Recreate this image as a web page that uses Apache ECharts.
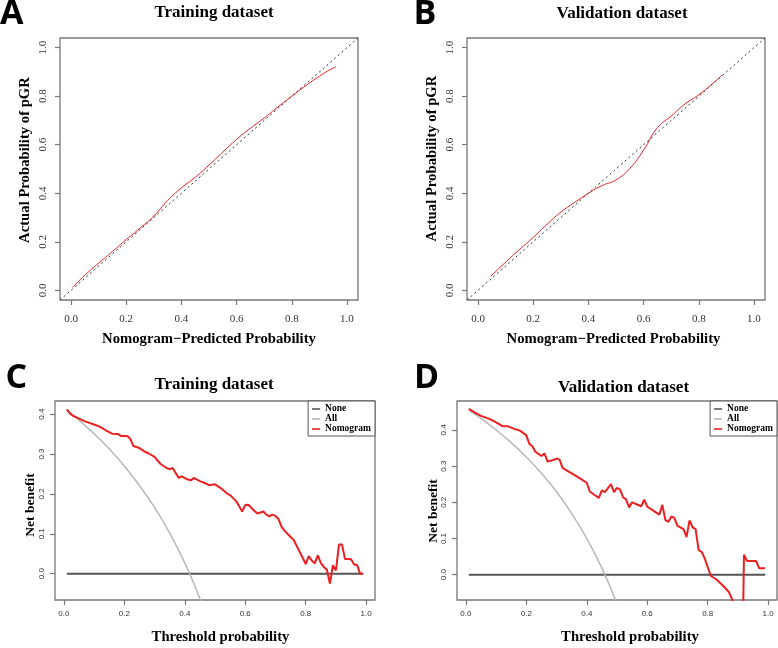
<!DOCTYPE html>
<html><head><meta charset="utf-8">
<script src="https://cdn.jsdelivr.net/npm/echarts@6/dist/echarts.min.js"></script>
<style>html,body{margin:0;padding:0;background:#fff}#c{width:778px;height:648px}</style>
</head><body><div id="c"></div>
<script>
// ---- tick labels ----
const calTicks = [0, 0.2, 0.4, 0.6, 0.8, 1.0];
const dcaXTicks = [0, 0.2, 0.4, 0.6, 0.8, 1.0];
const dcaYTicks = [0, 0.1, 0.2, 0.3, 0.4];

// ---- calibration (A, B) ----
const diagX = [-0.04, 1.04];
const diagY = [-0.04, 1.04];
const trainCalX = [0.005,0.05,0.10,0.15,0.20,0.25,0.30,0.35,0.40,0.45,0.50,0.55,0.60,0.65,0.70,0.75,0.80,0.85,0.90,0.93,0.96];
const trainCalY = [0.012,0.062,0.112,0.160,0.209,0.256,0.306,0.370,0.422,0.466,0.516,0.570,0.622,0.668,0.710,0.756,0.800,0.843,0.882,0.904,0.921];
const validCalX = [0.045,0.10,0.15,0.20,0.25,0.30,0.35,0.40,0.45,0.50,0.55,0.60,0.65,0.70,0.75,0.80,0.85,0.885];
const validCalY = [0.057,0.116,0.168,0.218,0.272,0.322,0.362,0.400,0.432,0.455,0.502,0.578,0.670,0.718,0.768,0.806,0.852,0.888];

// ---- decision curves (C, D) ----
const noneX = [0.01, 0.99];
const noneY = [0, 0];
const trainAllX = [0.01,0.05,0.10,0.15,0.20,0.25,0.30,0.35,0.40,0.45,0.48];
const trainAllY = [0.410,0.385,0.351,0.313,0.270,0.221,0.166,0.102,0.027,-0.062,-0.123];
const trainThresh = [0.01,0.02,0.03,0.05,0.07,0.10,0.12,0.14,0.16,0.18,0.19,0.21,0.22,0.23,0.25,0.27,0.28,0.30,0.32,0.34,0.35,0.36,0.38,0.39,0.41,0.42,0.43,0.45,0.47,0.48,0.50,0.52,0.54,0.55,0.57,0.59,0.60,0.61,0.63,0.64,0.66,0.67,0.68,0.69,0.70,0.71,0.72,0.73,0.75,0.76,0.77,0.78,0.79,0.80,0.81,0.82,0.83,0.84,0.85,0.86,0.87,0.88,0.89,0.90,0.91,0.92,0.93,0.94,0.95,0.96,0.97,0.98,0.99];
const trainNomogram = [0.412,0.402,0.396,0.389,0.382,0.374,0.368,0.359,0.351,0.350,0.345,0.345,0.338,0.320,0.315,0.305,0.302,0.293,0.275,0.265,0.262,0.265,0.240,0.244,0.236,0.234,0.240,0.232,0.226,0.222,0.224,0.214,0.201,0.197,0.182,0.156,0.172,0.173,0.158,0.151,0.156,0.148,0.144,0.148,0.145,0.137,0.118,0.108,0.092,0.085,0.070,0.055,0.040,0.024,0.044,0.033,0.026,0.046,0.027,0.017,0.010,-0.025,0.021,0.008,0.073,0.073,0.037,0.037,0.036,0.023,0.022,0.000,0.000];
const validAllX = [0.01,0.05,0.10,0.15,0.20,0.25,0.30,0.35,0.40,0.45,0.50,0.53];
const validAllY = [0.455,0.432,0.400,0.365,0.325,0.280,0.229,0.169,0.100,0.018,-0.080,-0.150];
const validThresh = [0.01,0.03,0.05,0.08,0.10,0.12,0.14,0.16,0.18,0.20,0.21,0.22,0.23,0.25,0.26,0.27,0.29,0.30,0.31,0.32,0.34,0.36,0.38,0.40,0.41,0.44,0.45,0.46,0.48,0.49,0.50,0.51,0.52,0.53,0.54,0.55,0.58,0.59,0.60,0.64,0.65,0.66,0.67,0.68,0.69,0.70,0.72,0.73,0.74,0.75,0.76,0.77,0.78,0.79,0.81,0.83,0.85,0.87,0.88,0.89,0.90,0.91,0.92,0.93,0.96,0.97,0.99];
const validNomogram = [0.458,0.448,0.439,0.430,0.421,0.411,0.410,0.403,0.398,0.385,0.362,0.355,0.340,0.328,0.335,0.313,0.317,0.321,0.318,0.295,0.285,0.275,0.265,0.254,0.230,0.212,0.233,0.228,0.250,0.228,0.240,0.236,0.214,0.208,0.186,0.200,0.189,0.207,0.188,0.166,0.193,0.151,0.146,0.161,0.156,0.135,0.126,0.104,0.150,0.131,0.126,0.068,0.063,0.045,-0.003,-0.014,-0.030,-0.048,-0.066,-0.090,-0.120,-0.500,0.055,0.038,0.038,0.018,0.018];

const zip = (xs, ys) => xs.map((x, i) => [x, ys[i]]);

const BOX = '#777';
const SERIF = '"Liberation Serif", "Times New Roman", serif';
const SANS = '"Liberation Sans", Arial, sans-serif';
const RED = '#ec2020';

function calX(gi, nameGap, pad) {
  return {
    type: 'value', gridIndex: gi, min: -0.04, max: 1.04,
    name: 'Nomogram\u2212Predicted Probability', nameLocation: 'middle', nameGap: nameGap, nameMoveOverlap: false,
    nameTextStyle: {fontFamily: SERIF, fontWeight: 'bold', fontSize: 14.7, lineHeight: 14.7, color: '#000', padding: pad},
    axisLine: {show: false, onZero: false}, splitLine: {show: false},
    axisTick: {show: true, inside: false, length: 5, customValues: calTicks, lineStyle: {color: BOX, width: 1.2}},
    axisLabel: {customValues: calTicks, margin: 13.5, fontFamily: SERIF, fontSize: 11, color: '#333', formatter: v => v.toFixed(1)}
  };
}
function calY(gi, pad) {
  return {
    type: 'value', gridIndex: gi, min: -0.04, max: 1.04,
    name: 'Actual Probability of pGR', nameLocation: 'middle', nameGap: 27.6, nameMoveOverlap: false,
    nameTextStyle: {fontFamily: SERIF, fontWeight: 'bold', fontSize: 14.7, lineHeight: 14.7, color: '#000', padding: pad},
    axisLine: {show: false, onZero: false}, splitLine: {show: false},
    axisTick: {show: true, inside: false, length: 5, customValues: calTicks, lineStyle: {color: BOX, width: 1.2}},
    axisLabel: {customValues: calTicks, rotate: 90, margin: 11.5, fontFamily: SERIF, fontSize: 11, color: '#333', formatter: v => v.toFixed(1)}
  };
}
function dcaX(gi, nameGap, pad) {
  return {
    type: 'value', gridIndex: gi, min: -0.0292, max: 1.0292,
    name: 'Threshold probability', nameLocation: 'middle', nameGap: nameGap, nameMoveOverlap: false,
    nameTextStyle: {fontFamily: SERIF, fontWeight: 'bold', fontSize: 14.7, lineHeight: 14.7, color: '#000', padding: pad},
    axisLine: {show: false, onZero: false}, splitLine: {show: false},
    axisTick: {show: true, inside: false, length: 5, customValues: dcaXTicks, lineStyle: {color: BOX, width: 1.2}},
    axisLabel: {customValues: dcaXTicks, margin: 10, fontFamily: SANS, fontSize: 8, color: '#333', formatter: v => v.toFixed(1)}
  };
}
function dcaY(gi, min, max, nameGap, pad) {
  return {
    type: 'value', gridIndex: gi, min: min, max: max,
    name: 'Net benefit', nameLocation: 'middle', nameGap: nameGap, nameMoveOverlap: false,
    nameTextStyle: {fontFamily: SERIF, fontWeight: 'bold', fontSize: 13.5, lineHeight: 13.5, color: '#000', padding: pad},
    axisLine: {show: false, onZero: false}, splitLine: {show: false},
    axisTick: {show: true, inside: false, length: 5, customValues: dcaYTicks, lineStyle: {color: BOX, width: 1.2}},
    axisLabel: {customValues: dcaYTicks, rotate: 90, margin: 9.2, fontFamily: SANS, fontSize: 8, color: '#333', formatter: v => v.toFixed(1)}
  };
}
function grid(left, top, width, height) {
  return {left: left, top: top, width: width, height: height, show: true, borderColor: BOX, borderWidth: 1.3,
          backgroundColor: 'transparent', containLabel: false, outerBoundsMode: 'none'};
}
function line(name, xi, data, color, width, opts) {
  return Object.assign({
    type: 'line', name: name, xAxisIndex: xi, yAxisIndex: xi, data: data,
    symbol: 'none', showSymbol: false, clip: true, animation: false,
    lineStyle: {color: color, width: width}, itemStyle: {color: color}
  }, opts || {});
}
function legend(right) {
  return {
    right: right, top: 401, orient: 'vertical', data: ['None', 'All', 'Nomogram'],
    icon: 'rect', itemWidth: 8, itemHeight: 1.6, itemGap: 0, padding: [3, 4, 2, 4],
    borderColor: '#555', borderWidth: 1, backgroundColor: '#fff', selectedMode: false,
    textStyle: {fontFamily: SERIF, fontWeight: 'bold', fontSize: 9.5, lineHeight: 10, color: '#000'}
  };
}
function txt(x, y, text, font, align) {
  return {type: 'text', x: x, y: y, silent: true,
    style: {text: text, font: font, align: align, verticalAlign: 'middle', textAlign: align, textVerticalAlign: 'middle', fill: '#000'}};
}

const chart = echarts.init(document.getElementById('c'), null, {renderer: 'canvas'});
chart.setOption({
  animation: false,
  backgroundColor: '#fff',
  grid: [grid(60, 38, 298, 262), grid(467, 38, 298, 262), grid(55, 401, 320, 199), grid(457, 401, 320, 199)],
  xAxis: [calX(0, 31.7, [0, 0, 0, 0]), calX(1, 31.7, [0, 5, 0, 0]), dcaX(2, 29.7, [0, 0, 0, 11]), dcaX(3, 30, [0, 0, 0, 26])],
  yAxis: [calY(0, [0, 0, 0, 18]), calY(1, [0, 0, 0, 21]), dcaY(2, -0.066, 0.433, 18, [0, 9, 0, 0]), dcaY(3, -0.070, 0.480, 16.5, [0, 21, 0, 0])],
  legend: [legend(778 - 375), legend(1)],
  graphic: [
    txt(0, 14.5, 'A', 'bold 34px "Open Sans"', 'left'),
    txt(413.5, 14.5, 'B', 'bold 34px "Open Sans"', 'left'),
    txt(5.5, 378, 'C', 'bold 34px "Open Sans"', 'left'),
    txt(414, 378, 'D', 'bold 34px "Open Sans"', 'left'),
    txt(214, 12.5, 'Training dataset', 'bold 17px ' + SERIF, 'center'),
    txt(622, 13.5, 'Validation dataset', 'bold 17px ' + SERIF, 'center'),
    txt(214, 385, 'Training dataset', 'bold 17px ' + SERIF, 'center'),
    txt(623.5, 388, 'Validation dataset', 'bold 17px ' + SERIF, 'center')
  ],
  series: [
    line('diagA', 0, zip(diagX, diagY), '#333', 1, {lineStyle: {color: '#333', width: 1, type: [2, 3]}}),
    line('calA', 0, zip(trainCalX, trainCalY), RED, 1, {smooth: true}),
    line('diagB', 1, zip(diagX, diagY), '#333', 1, {lineStyle: {color: '#333', width: 1, type: [2, 3]}}),
    line('calB', 1, zip(validCalX, validCalY), RED, 1, {smooth: true}),
    line('None', 2, zip(noneX, noneY), '#555', 2),
    line('All', 2, zip(trainAllX, trainAllY), '#b8b8b8', 1.5, {smooth: true}),
    line('Nomogram', 2, zip(trainThresh, trainNomogram), RED, 2),
    line('None', 3, zip(noneX, noneY), '#555', 2),
    line('All', 3, zip(validAllX, validAllY), '#b8b8b8', 1.5, {smooth: true}),
    line('Nomogram', 3, zip(validThresh, validNomogram), RED, 2)
  ]
});
</script>
</body></html>
